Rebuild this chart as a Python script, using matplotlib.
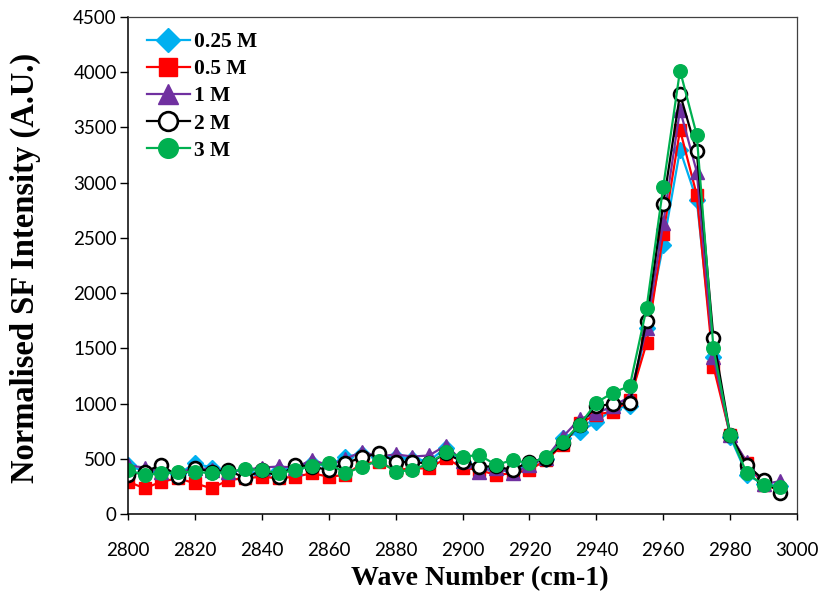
import matplotlib
matplotlib.use("Agg")
import matplotlib.pyplot as plt
import numpy as np

wave = list(range(2800, 3000, 5))

s025 = [444, 380, 380, 360, 459, 420, 380, 400, 353, 400, 420, 460, 440, 520, 540, 520, 520, 500, 480, 600,
        470, 420, 400, 390, 450, 500, 690, 740, 836, 950, 980, 1680, 2436, 3297, 2844, 1420, 700, 355, 270, 250]
s05 = [293, 232, 293, 323, 278, 232, 308, 323, 338, 323, 338, 368, 338, 353, 459, 470, 398, 413, 413, 504,
       420, 398, 353, 370, 398, 490, 625, 821, 900, 927, 1033, 1546, 2536, 3478, 2890, 1334, 716, 459, 263, 217]
s1 = [440, 420, 380, 370, 420, 400, 380, 400, 420, 430, 420, 490, 440, 500, 564, 520, 540, 520, 530, 620,
      480, 383, 420, 368, 440, 510, 700, 860, 910, 980, 1060, 1682, 2636, 3660, 3100, 1425, 716, 470, 270, 298]
s2 = [353, 383, 444, 338, 414, 383, 398, 323, 398, 338, 444, 429, 398, 459, 513, 549, 474, 468, 459, 549,
      474, 429, 430, 398, 474, 500, 640, 810, 980, 993, 1003, 1751, 2808, 3801, 3282, 1591, 716, 444, 308, 187]
s3 = [398, 353, 368, 377, 383, 368, 383, 405, 398, 368, 398, 435, 459, 368, 429, 483, 383, 398, 459, 559,
      519, 534, 444, 489, 459, 513, 655, 806, 1008, 1099, 1159, 1863, 2965, 4015, 3433, 1501, 716, 368, 263, 247]

labels = ["0.25 M", "0.5 M", "1 M", "2 M", "3 M"]

fig = plt.figure(figsize=(8.22, 5.91), dpi=100)
ax = fig.add_axes([0.1557, 0.1303, 0.814, 0.841])

ms = 9.3
ax.plot(wave, s025, color="#00B0F0", lw=1.6, marker="D", ms=ms * 0.9, mfc="#00B0F0", mec="#00B0F0", label=labels[0])
ax.plot(wave, s05, color="#FF0000", lw=1.6, marker="s", ms=ms * 0.95, mfc="#FF0000", mec="#FF0000", label=labels[1])
ax.plot(wave, s1, color="#7030A0", lw=1.6, marker="^", ms=ms * 1.1, mfc="#7030A0", mec="#7030A0", label=labels[2])
ax.plot(wave, s2, color="#000000", lw=1.6, marker="o", ms=ms, mfc="white", mec="black", mew=1.9, label=labels[3])
ax.plot(wave, s3, color="#00B050", lw=1.6, marker="o", ms=ms * 1.05, mfc="#00B050", mec="#00B050", label=labels[4])

ax.set_xlim(2800, 3000)
ax.set_ylim(0, 4500)
ax.set_xticks(range(2800, 3001, 20))
ax.set_yticks(range(0, 4501, 500))
ax.tick_params(axis="x", direction="out", length=4, width=1, labelsize=13.5, pad=16, colors="black")
ax.tick_params(axis="y", direction="out", length=6, width=1, labelsize=13.5, pad=2, colors="black")
for lab in ax.get_xticklabels() + ax.get_yticklabels():
    lab.set_fontfamily("Lato")

for side in ["left", "bottom"]:
    ax.spines[side].set_color("black")
    ax.spines[side].set_linewidth(1.1)
for side in ["top", "right"]:
    ax.spines[side].set_color("#404040")
    ax.spines[side].set_linewidth(0.9)

ax.set_xlabel("Wave Number (cm-1)", fontfamily="Liberation Serif", fontweight="bold", fontsize=20.2)
ax.set_ylabel("Normalised SF Intensity (A.U.)", fontfamily="Liberation Serif", fontweight="bold", fontsize=23.5)
ax.xaxis.set_label_coords(0.526, -0.129)
ax.xaxis.label.set_verticalalignment("center")
ax.yaxis.set_label_coords(-0.154, 0.495)
ax.yaxis.label.set_verticalalignment("center")

leg = ax.legend(loc="upper left", frameon=False, prop={"family": "Liberation Serif", "weight": "bold", "size": 15.5},
                handlelength=2.0, handletextpad=0.2, labelspacing=0.33, borderaxespad=0.0,
                markerscale=1.45, bbox_to_anchor=(0.0155, 0.987))

fig.savefig("out.png", dpi=100)
